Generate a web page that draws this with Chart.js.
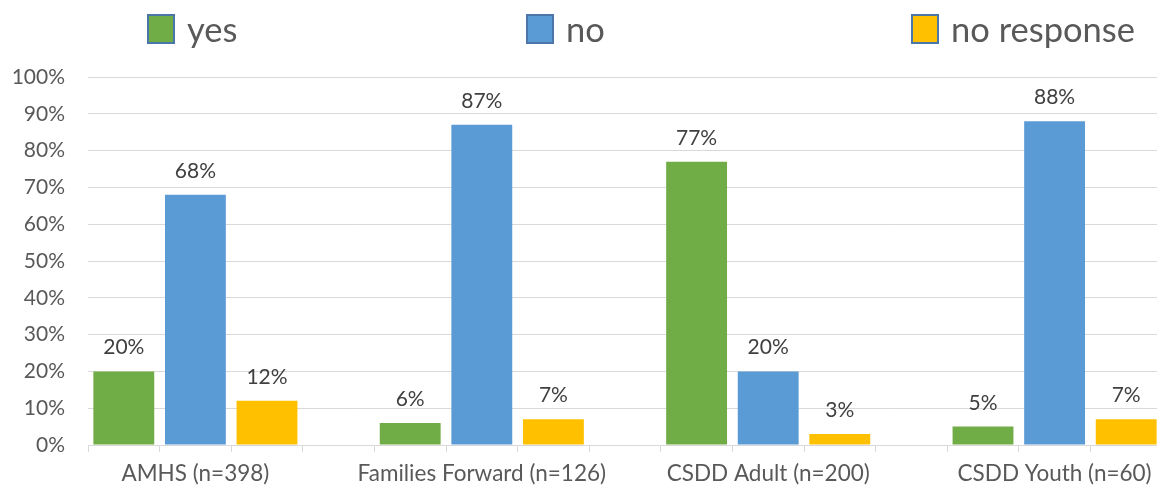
<!DOCTYPE html>
<html>
<head>
<meta charset="utf-8">
<script src="https://cdn.jsdelivr.net/npm/chart.js@4.4.1/dist/chart.umd.min.js"></script>
<style>
  html, body { margin: 0; padding: 0; background: #fff; overflow: hidden; }
  #wrap { position: relative; width: 1157px; height: 487px; overflow: hidden; }
  #chart { position: absolute; left: 0; top: 0; }
  .legend-item {
    position: absolute; top: 8px; display: flex; align-items: center;
    font-family: Lato, sans-serif; font-size: 34.5px; color: #595959;
  }
  .legend-item .swatch {
    width: 24px; height: 26px; border: 2px solid #4a76a8; margin-right: 12px;
  }
</style>
</head>
<body>
<div id="wrap">
  <canvas id="chart" width="1165" height="487"></canvas>
</div>
<script>
const categories = ["AMHS (n=398)", "Families Forward (n=126)", "CSDD Adult (n=200)", "CSDD Youth (n=60)"];
const seriesNames = ["yes", "no", "no response"];
const yesValues = [20, 6, 77, 5];
const noValues = [68, 87, 20, 88];
const noResponseValues = [12, 7, 3, 7];
const seriesColors = ["#70AD47", "#5B9BD5", "#FFC000"];
const legendLeft = [147, 526, 911];

// each group takes three bar slots plus an empty spacer slot
const slotsPerGroup = seriesNames.length + 1;
const slotCount = categories.length * slotsPerGroup - 1;
const slotLabels = Array.from({ length: slotCount }, (_, i) =>
  i % slotsPerGroup === 1 ? categories[Math.floor(i / slotsPerGroup)] : "");

function spread(values, offset) {
  const out = new Array(slotCount).fill(null);
  values.forEach((v, g) => { out[g * slotsPerGroup + offset] = v; });
  return out;
}

const seriesValues = [yesValues, noValues, noResponseValues];

// legend across the top
const wrap = document.getElementById("wrap");
seriesNames.forEach((name, i) => {
  const item = document.createElement("div");
  item.className = "legend-item";
  item.style.left = legendLeft[i] + "px";
  const sw = document.createElement("span");
  sw.className = "swatch";
  sw.style.background = seriesColors[i];
  const txt = document.createElement("span");
  txt.textContent = name;
  item.appendChild(sw);
  item.appendChild(txt);
  wrap.appendChild(item);
});

// percentage above each bar
const valueLabels = {
  id: "valueLabels",
  afterDatasetsDraw(chart) {
    const ctx = chart.ctx;
    ctx.save();
    ctx.font = "21px Lato";
    ctx.fillStyle = "#404040";
    ctx.textAlign = "center";
    ctx.textBaseline = "alphabetic";
    chart.data.datasets.forEach((ds, i) => {
      chart.getDatasetMeta(i).data.forEach((bar, j) => {
        if (ds.data[j] == null) return;
        ctx.fillText(ds.data[j] + "%", bar.x, bar.y - 17);
      });
    });
    ctx.restore();
  }
};

new Chart(document.getElementById("chart"), {
  type: "bar",
  data: {
    labels: slotLabels,
    datasets: seriesNames.map((name, i) => ({
      label: name,
      data: spread(seriesValues[i], i),
      backgroundColor: seriesColors[i],
      grouped: false,
      barPercentage: 0.85,
      categoryPercentage: 1
    }))
  },
  options: {
    responsive: false,
    animation: false,
    layout: { padding: { top: 77, right: 3, left: 0, bottom: 0 } },
    plugins: {
      legend: { display: false },
      tooltip: { enabled: false }
    },
    scales: {
      x: {
        afterFit(scale) { scale.height = 42; },
        grid: { drawOnChartArea: false, tickLength: 7, color: "#d9d9d9" },
        border: { color: "#d9d9d9" },
        ticks: {
          autoSkip: false, maxRotation: 0, minRotation: 0, padding: 8,
          color: "#595959", font: { family: "Lato", size: 22.5 }
        }
      },
      y: {
        min: 0, max: 100,
        afterFit(scale) { scale.width = 88; },
        grid: { color: "#d9d9d9", drawTicks: false },
        border: { display: false },
        ticks: {
          stepSize: 10, padding: 23,
          color: "#595959", font: { family: "Lato", size: 21 },
          callback: v => v + "%"
        }
      }
    }
  },
  plugins: [valueLabels]
});
</script>
</body>
</html>
